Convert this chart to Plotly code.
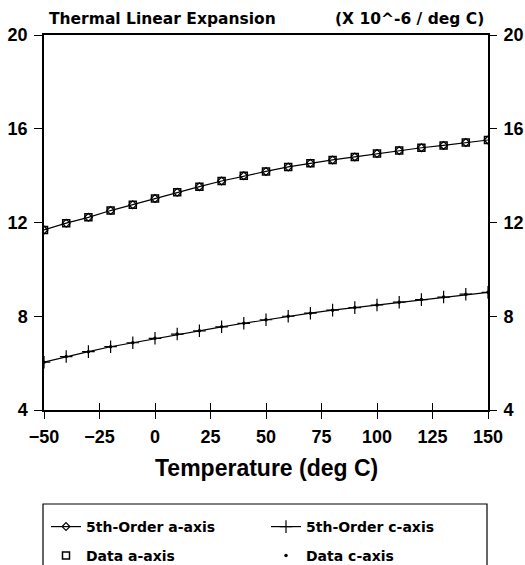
import plotly.graph_objects as go

temps = [-50, -40, -30, -20, -10, 0, 10, 20, 30, 40, 50, 60, 70, 80, 90, 100, 110, 120, 130, 140, 150]
a_axis = [11.68, 11.97, 12.22, 12.51, 12.76, 13.02, 13.29, 13.53, 13.77, 13.99, 14.18, 14.37, 14.53, 14.67, 14.80, 14.94, 15.07, 15.19, 15.29, 15.41, 15.52]
c_axis = [6.04, 6.28, 6.49, 6.70, 6.87, 7.06, 7.24, 7.38, 7.55, 7.70, 7.85, 8.00, 8.13, 8.26, 8.37, 8.48, 8.60, 8.71, 8.82, 8.94, 9.02]
x_ticks = [-50, -25, 0, 25, 50, 75, 100, 125, 150]
y_ticks = [4, 8, 12, 16, 20]

W, H = 525, 565
L, R, T, B = 44, 37, 35, 155
PH = H - T - B


def py(p):
    return (H - B - p) / PH


def px(p):
    return (p - L) / (W - L - R)


fig = go.Figure()
fig.add_trace(go.Scatter(x=temps, y=a_axis, mode="lines+markers", name="5th-Order a-axis",
                         line=dict(color="black", width=1.2),
                         marker=dict(symbol="diamond-open", size=6, color="black", line=dict(width=1.2)),
                         legend="legend"))
fig.add_trace(go.Scatter(x=temps, y=c_axis, mode="lines+markers", name="5th-Order c-axis",
                         line=dict(color="black", width=1.2),
                         marker=dict(symbol="cross-thin", size=9, color="black", line=dict(width=1.2, color="black")),
                         legend="legend"))
fig.add_trace(go.Scatter(x=temps, y=a_axis, mode="markers", name="Data a-axis",
                         marker=dict(symbol="square-open", size=7, color="black", line=dict(width=1.5)),
                         legend="legend2"))
fig.add_trace(go.Scatter(x=temps, y=c_axis, mode="markers", name="Data c-axis",
                         marker=dict(symbol="circle", size=3.5, color="black"),
                         legend="legend2"))
# helper traces for the secondary axes
fig.add_trace(go.Scatter(x=[None], y=[None], xaxis="x2", yaxis="y", showlegend=False, hoverinfo="skip"))
fig.add_trace(go.Scatter(x=[None], y=[None], xaxis="x", yaxis="y2", showlegend=False, hoverinfo="skip"))

tickfont = dict(family="Liberation Sans, Arial", size=18, color="black", weight="bold")
legfont = dict(family="DejaVu Sans", size=14, color="black", weight="bold")

fig.update_layout(
    width=W, height=H,
    margin=dict(l=L, r=R, t=T, b=B, autoexpand=False),
    paper_bgcolor="white", plot_bgcolor="white",
    xaxis=dict(range=[-50, 150], tickvals=x_ticks, ticks="outside", ticklen=7, tickwidth=1.2,
               tickcolor="black", showline=True, linecolor="black", linewidth=1.5, mirror=True,
               showgrid=False, zeroline=False, tickfont=tickfont, ticklabelstandoff=3),
    xaxis2=dict(overlaying="x", matches="x", anchor="y", range=[-50, 150], tickvals=x_ticks,
                ticks="inside", ticklen=7, tickwidth=1.2, tickcolor="black", showticklabels=False,
                showline=False, showgrid=False, zeroline=False),
    yaxis=dict(range=[4, 20], tickvals=y_ticks, ticks="outside", ticklen=8, tickwidth=1.2,
               tickcolor="black", showline=True, linecolor="black", linewidth=1.5, mirror=True,
               showgrid=False, zeroline=False, tickfont=tickfont, ticklabelstandoff=3),
    yaxis2=dict(overlaying="y", matches="y", side="right", anchor="x", range=[4, 20], tickvals=y_ticks,
                ticks="outside", ticklen=8, tickwidth=1.2, tickcolor="black", showline=False,
                showgrid=False, zeroline=False, tickfont=tickfont, ticklabelstandoff=3),
    legend=dict(orientation="h", x=px(46), xanchor="left", y=py(527), yanchor="middle",
                entrywidth=175, entrywidthmode="pixels", font=legfont, bgcolor="rgba(0,0,0,0)",
                borderwidth=0),
    legend2=dict(orientation="h", x=px(46), xanchor="left", y=py(556), yanchor="middle",
                 entrywidth=175, entrywidthmode="pixels", font=legfont, bgcolor="rgba(0,0,0,0)",
                 borderwidth=0),
    shapes=[dict(type="rect", xref="paper", yref="paper", x0=px(43), x1=px(487), y0=py(580), y1=py(504),
                 line=dict(color="black", width=1.2), fillcolor="rgba(0,0,0,0)")],
    annotations=[
        dict(text="Thermal Linear Expansion", x=px(47), y=py(19), xref="paper", yref="paper",
             xanchor="left", yanchor="middle", showarrow=False,
             font=dict(family="DejaVu Sans", size=15.5, color="black", weight="bold")),
        dict(text="(X 10^-6 / deg C)", x=px(486), y=py(19), xref="paper", yref="paper",
             xanchor="right", yanchor="middle", showarrow=False,
             font=dict(family="DejaVu Sans", size=15.5, color="black", weight="bold")),
        dict(text="Temperature (deg C)", x=0.5, y=py(468), xref="paper", yref="paper",
             xanchor="center", yanchor="middle", showarrow=False,
             font=dict(family="Liberation Sans, Arial", size=23, color="black", weight="bold")),
    ],
)

fig.write_html("out.html")
